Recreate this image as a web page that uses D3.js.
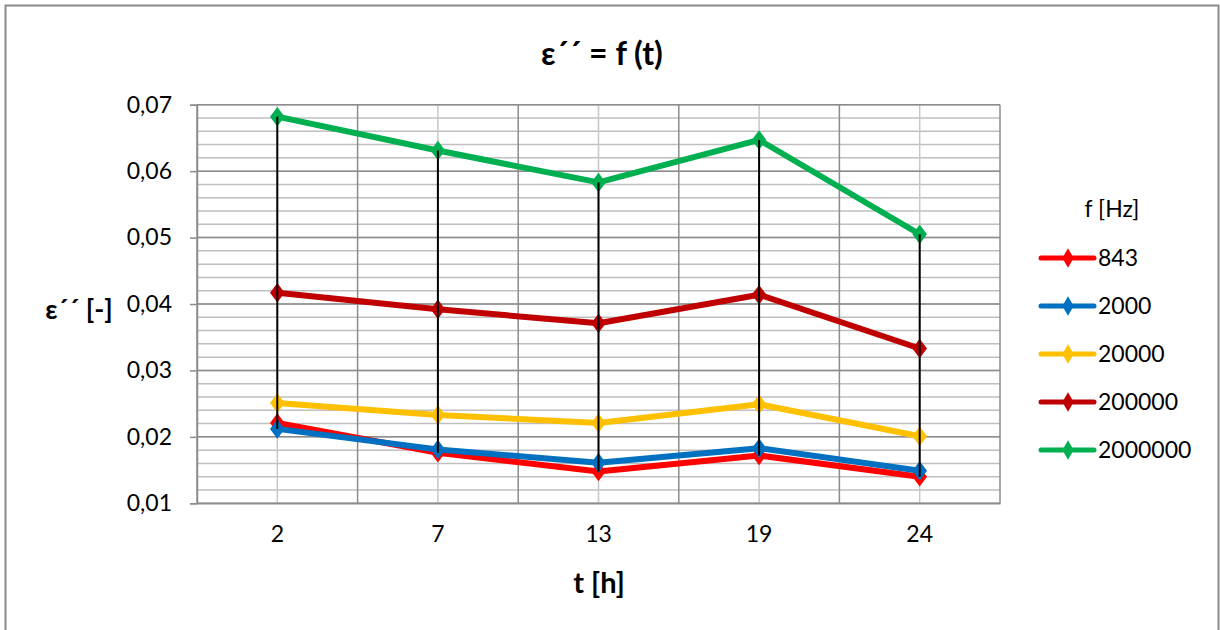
<!DOCTYPE html>
<html>
<head>
<meta charset="utf-8">
<script src="https://cdn.jsdelivr.net/npm/d3@7"></script>
<style>
  html, body { margin: 0; padding: 0; background: #fff; }
  svg { display: block; font-family: Lato, "Open Sans", sans-serif; }
</style>
</head>
<body>
<svg id="chart" width="1220" height="630"></svg>
<script>
// ---- Data ----
const categories = ["2", "7", "13", "19", "24"];
const seriesNames = ["843", "2000", "20000", "200000", "2000000"];
const seriesColors = ["#FF0000", "#0070C0", "#FFC000", "#C00000", "#00B050"];
const values843     = [0.0221, 0.0176, 0.0148, 0.0172, 0.0140];
const values2000    = [0.0212, 0.0181, 0.0161, 0.0183, 0.0149];
const values20000   = [0.0251, 0.0233, 0.0221, 0.0249, 0.0201];
const values200000  = [0.0417, 0.0392, 0.0371, 0.0414, 0.0333];
const values2000000 = [0.0682, 0.0631, 0.0583, 0.0647, 0.0505];
const yTickValues = [0.01, 0.02, 0.03, 0.04, 0.05, 0.06, 0.07];
const titleText = "ε´´ = f (t)";
const yTitle = "ε´´ [-]";
const xTitle = "t [h]";
const legendTitle = "f [Hz]";

const allSeries = [values843, values2000, values20000, values200000, values2000000];

// ---- Layout ----
const svg = d3.select("#chart");
const plotLeft = 197, plotRight = 1000, plotTop = 104.7, plotBottom = 503.3;

const x = d3.scaleBand().domain(categories).range([plotLeft, plotRight]).padding(0);
const cx = c => x(c) + x.bandwidth() / 2;
const y = d3.scaleLinear().domain([0.01, 0.07]).range([plotBottom, plotTop]);

const fmt = d3.formatLocale({decimal: ",", thousands: ".", grouping: [3], currency: ["", ""]}).format(".2f");

// Outer border
svg.append("rect").attr("x", 5.5).attr("y", 5.5).attr("width", 1213).attr("height", 640)
  .attr("fill", "#fff").attr("stroke", "#8a8a8a").attr("stroke-width", 2);

// Minor horizontal gridlines
const minorY = d3.range(0, 31).map(i => 0.01 + i * 0.002);
svg.append("g").selectAll("line").data(minorY).join("line")
  .attr("x1", plotLeft).attr("x2", plotRight)
  .attr("y1", d => y(d)).attr("y2", d => y(d))
  .attr("stroke", "#BFBFBF").attr("stroke-width", 1.5);

// Minor vertical gridlines (category centers)
svg.append("g").selectAll("line").data(categories).join("line")
  .attr("x1", d => cx(d)).attr("x2", d => cx(d))
  .attr("y1", plotTop).attr("y2", plotBottom)
  .attr("stroke", "#C8C8C8").attr("stroke-width", 1.5);

// Major vertical gridlines (category boundaries)
const boundaries = categories.map(c => x(c)).concat([plotRight]);
svg.append("g").selectAll("line").data(boundaries).join("line")
  .attr("x1", d => d).attr("x2", d => d)
  .attr("y1", plotTop).attr("y2", plotBottom)
  .attr("stroke", "#8C8C8C").attr("stroke-width", 1.5);

// Major horizontal gridlines
svg.append("g").selectAll("line").data(yTickValues).join("line")
  .attr("x1", plotLeft).attr("x2", plotRight)
  .attr("y1", d => y(d)).attr("y2", d => y(d))
  .attr("stroke", "#8C8C8C").attr("stroke-width", 1.5);

// Y axis
const yAxis = svg.append("g").attr("transform", `translate(${plotLeft},0)`)
  .call(d3.axisLeft(y).tickValues(yTickValues).tickFormat(fmt).tickSize(7).tickPadding(18));
yAxis.select(".domain").attr("stroke", "#8C8C8C").attr("stroke-width", 1.5);
yAxis.selectAll(".tick line").attr("stroke", "#8C8C8C").attr("stroke-width", 1.5);
yAxis.selectAll(".tick text").attr("font-size", 23).attr("fill", "#000")
  .attr("font-family", "Lato, sans-serif");

// X axis
const xAxis = svg.append("g").attr("transform", `translate(0,${plotBottom})`)
  .call(d3.axisBottom(x).tickSize(0).tickPadding(22));
xAxis.select(".domain").attr("stroke", "#8C8C8C").attr("stroke-width", 1.5);
xAxis.selectAll(".tick text").attr("font-size", 23).attr("fill", "#000")
  .attr("font-family", "Lato, sans-serif");

// Series lines
const line = d3.line().x((d, i) => cx(categories[i])).y(d => y(d));
const diamondPath = d3.symbol().type(d3.symbolDiamond).size(110)();

allSeries.forEach((vals, si) => {
  const g = svg.append("g");
  g.append("path").datum(vals).attr("d", line)
    .attr("fill", "none").attr("stroke", seriesColors[si]).attr("stroke-width", 6)
    .attr("stroke-linejoin", "round");
  g.selectAll("path.m").data(vals).join("path").attr("class", "m")
    .attr("d", diamondPath)
    .attr("transform", (d, i) => `translate(${cx(categories[i])},${y(d)}) scale(1.3,1)`)
    .attr("fill", seriesColors[si]);
});

// High-low lines
svg.append("g").selectAll("line").data(categories).join("line")
  .attr("x1", c => cx(c)).attr("x2", c => cx(c))
  .attr("y1", (c, i) => y(d3.max(allSeries, s => s[i])))
  .attr("y2", (c, i) => y(d3.min(allSeries, s => s[i])))
  .attr("stroke", "#000").attr("stroke-width", 2);

// Title
svg.append("text").attr("x", 602).attr("y", 65).attr("text-anchor", "middle")
  .attr("font-size", 32).attr("font-weight", "bold").text(titleText);

// Y title
svg.append("text").attr("x", 79).attr("y", 319).attr("text-anchor", "middle")
  .attr("font-size", 27).attr("font-weight", "bold").text(yTitle);

// X title
svg.append("text").attr("x", 599).attr("y", 593).attr("text-anchor", "middle")
  .attr("font-size", 29).attr("font-weight", "bold").text(xTitle);

// Legend
svg.append("text").attr("x", 1112).attr("y", 217).attr("text-anchor", "middle")
  .attr("font-size", 23).text(legendTitle);
const lg = svg.append("g").selectAll("g").data(seriesNames).join("g")
  .attr("transform", (d, i) => `translate(0,${258 + i * 48})`);
lg.append("line").attr("x1", 1041).attr("x2", 1094).attr("y1", 0).attr("y2", 0)
  .attr("stroke", (d, i) => seriesColors[i]).attr("stroke-width", 5).attr("stroke-linecap", "round");
lg.append("path").attr("d", diamondPath).attr("transform", "translate(1068,0)")
  .attr("fill", (d, i) => seriesColors[i]);
lg.append("text").attr("x", 1098).attr("y", 8).attr("font-size", 23).text(d => d);
</script>
</body>
</html>
